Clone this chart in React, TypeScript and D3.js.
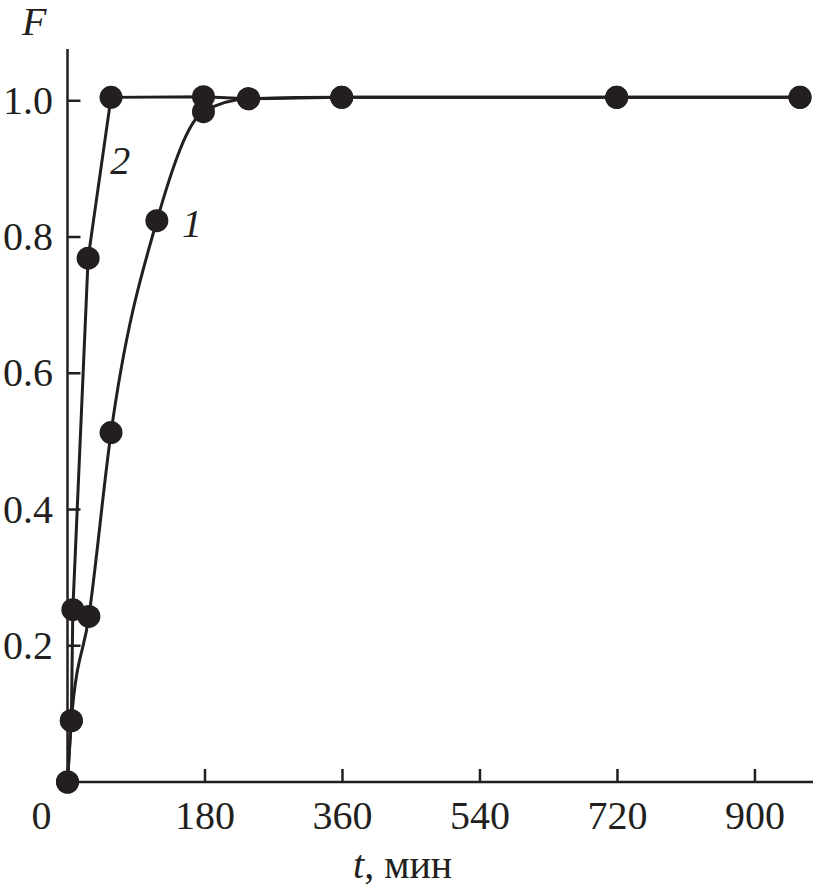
import React from "react";
import * as d3 from "d3";

const series1T = [0, 5, 28, 57, 117, 178, 237, 359, 719, 959];
const series1F = [0, 0.09, 0.243, 0.513, 0.824, 0.984, 1.003, 1.005, 1.005, 1.005];
const series2T = [0, 5, 7, 27, 57, 178, 237, 359, 719, 959];
const series2F = [0, 0.09, 0.253, 0.769, 1.005, 1.006, 1.003, 1.005, 1.005, 1.005];
const xTicks = [180, 360, 540, 720, 900];
const yTicks = [0.2, 0.4, 0.6, 0.8, 1.0];
const yTickLabels = ["0.2", "0.4", "0.6", "0.8", "1.0"];
const curveLabels = [
  { text: "1", t: 150, f: 0.8 },
  { text: "2", t: 56, f: 0.893 },
];

const INK = "#231f20";
const FONT = "'Liberation Serif', 'Times New Roman', serif";
const FS = 40;

export default function App() {
  const W = 817, H = 892;
  const x = d3.scaleLinear().domain([0, 976]).range([67.5, 813]);
  const y = d3.scaleLinear().domain([0, 1.076]).range([782, 49]);

  const pts1 = series1T.map((t, i) => [t, series1F[i]] as [number, number]);
  const pts2 = series2T.map((t, i) => [t, series2F[i]] as [number, number]);

  const line1 = d3.line<[number, number]>().x(d => x(d[0])).y(d => y(d[1])).curve(d3.curveMonotoneX);
  const line2 = d3.line<[number, number]>().x(d => x(d[0])).y(d => y(d[1])).curve(d3.curveLinear);

  return (
    <svg width={W} height={H} style={{ position: "absolute", left: 0, top: 0, background: "#fff" }}>
      <rect x={0} y={0} width={W} height={H} fill="#fff" />
      <line x1={x(0)} y1={y(1.076)} x2={x(0)} y2={y(0) + 1.2} stroke={INK} strokeWidth={2.5} />
      <line x1={x(0) - 1.2} y1={y(0)} x2={813} y2={y(0)} stroke={INK} strokeWidth={2.5} />
      {xTicks.map(t => (
        <g key={"xt" + t}>
          <line x1={x(t)} x2={x(t)} y1={y(0)} y2={y(0) - 13} stroke={INK} strokeWidth={2.5} />
          <text x={x(t)} y={829} textAnchor="middle" fontFamily={FONT} fontSize={FS} fill={INK}>{t}</text>
        </g>
      ))}
      <text x={x(0) - 26} y={829} textAnchor="middle" fontFamily={FONT} fontSize={FS} fill={INK}>0</text>
      {yTicks.map((v, i) => (
        <g key={"yt" + v}>
          <line x1={x(0)} x2={x(0) + 13} y1={y(v)} y2={y(v)} stroke={INK} strokeWidth={2.5} />
          <text x={53} y={y(v) + 13} textAnchor="end" fontFamily={FONT} fontSize={FS} fill={INK}>{yTickLabels[i]}</text>
        </g>
      ))}
      <text x={22} y={35} fontFamily={FONT} fontStyle="italic" fontSize={FS} fill={INK}>F</text>
      <text x={353} y={878} fontFamily={FONT} fontSize={FS} fill={INK}>
        <tspan fontStyle="italic">t</tspan>, мин
      </text>
      <path d={line2(pts2) || ""} fill="none" stroke={INK} strokeWidth={3} />
      <path d={line1(pts1) || ""} fill="none" stroke={INK} strokeWidth={3} />
      {pts1.concat(pts2).map((p, i) => (
        <circle key={"p" + i} cx={x(p[0])} cy={y(p[1])} r={11.5} fill={INK} />
      ))}
      {curveLabels.map(l => (
        <text key={l.text} x={x(l.t)} y={y(l.f)} fontFamily={FONT} fontStyle="italic" fontSize={FS} fill={INK}>{l.text}</text>
      ))}
    </svg>
  );
}
